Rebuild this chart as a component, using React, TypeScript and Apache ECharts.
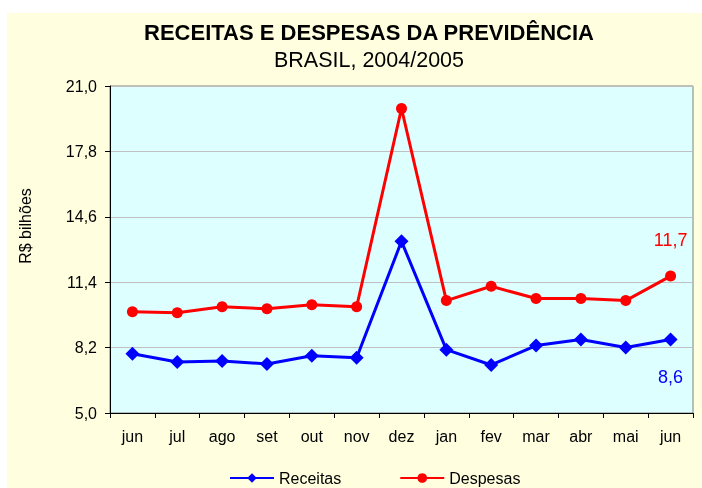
import React, { useEffect, useRef } from "react";
import * as echarts from "echarts";

const categories = ["jun", "jul", "ago", "set", "out", "nov", "dez", "jan", "fev", "mar", "abr", "mai", "jun"];
const receitas = [7.9, 7.5, 7.55, 7.4, 7.8, 7.7, 13.4, 8.1, 7.35, 8.3, 8.6, 8.2, 8.6];
const despesas = [9.95, 9.9, 10.2, 10.1, 10.3, 10.2, 19.9, 10.5, 11.2, 10.6, 10.6, 10.5, 11.7];
const yTicks = [5.0, 8.2, 11.4, 14.6, 17.8, 21.0];

const fmt = (v: number) => v.toFixed(1).replace(".", ",");

export default function App() {
  const ref = useRef<HTMLDivElement>(null);
  useEffect(() => {
    if (!ref.current) return;
    const chart = echarts.init(ref.current, null, { renderer: "svg" });
    const font = "'Liberation Sans', Arial, sans-serif";
    const lastIdx = categories.length - 1;
    chart.setOption({
      animation: false,
      textStyle: { fontFamily: font },
      graphic: [
        { type: "rect", z: -10, shape: { x: 7, y: 13, width: 702, height: 480 }, style: { fill: "#FFFFE0" } },
        { type: "text", x: 369, y: 32, style: { text: "RECEITAS E DESPESAS DA PREVIDÊNCIA", font: `bold 22px ${font}`, fill: "#000", align: "center", verticalAlign: "middle" } },
        { type: "text", x: 369, y: 60, style: { text: "BRASIL, 2004/2005", font: `21.5px ${font}`, fill: "#000", align: "center", verticalAlign: "middle" } },
        { type: "text", x: 25, y: 226, rotation: Math.PI / 2, style: { text: "R$ bilhões", font: `16px ${font}`, fill: "#000", align: "center", verticalAlign: "middle" } },
      ],
      grid: { left: 110, top: 86, right: 9, bottom: 75, show: true, backgroundColor: "#DDFFFF", borderColor: "#808080", borderWidth: 1 },
      xAxis: {
        type: "category",
        data: categories,
        boundaryGap: true,
        axisLine: { lineStyle: { color: "#000", width: 1 } },
        axisTick: { show: true, alignWithLabel: false, length: 5, lineStyle: { color: "#000" } },
        axisLabel: { color: "#000", fontSize: 16, margin: 15, fontFamily: font },
      },
      yAxis: {
        type: "value",
        min: 5,
        max: 21,
        axisLine: { show: true, lineStyle: { color: "#000" } },
        axisTick: { show: true, length: 5, lineStyle: { color: "#000" }, customValues: yTicks },
        axisLabel: { color: "#000", fontSize: 16, margin: 13, fontFamily: font, formatter: (v: number) => fmt(v), customValues: yTicks },
        splitLine: { show: true, lineStyle: { color: "#C0C0C0", width: 1 } },
      },
      legend: {
        left: 224,
        top: 465,
        itemGap: 58,
        itemWidth: 44,
        itemHeight: 12,
        textStyle: { color: "#000", fontSize: 16, fontFamily: font },
        data: ["Receitas", "Despesas"],
      },
      series: [
        {
          name: "Receitas",
          type: "line",
          data: receitas.map((v, i) => i === lastIdx ? { value: v, label: { show: true, position: "bottom", distance: 22, formatter: (p: any) => fmt(p.value), color: "#0000FF", fontSize: 18, fontFamily: font } } : v),
          symbol: "diamond",
          symbolSize: 14,
          lineStyle: { color: "#0000FF", width: 3 },
          itemStyle: { color: "#0000FF" },
        },
        {
          name: "Despesas",
          type: "line",
          data: despesas.map((v, i) => i === lastIdx ? { value: v, label: { show: true, position: "top", distance: 22, formatter: (p: any) => fmt(p.value), color: "#FF0000", fontSize: 18, fontFamily: font } } : v),
          symbol: "circle",
          symbolSize: 11,
          lineStyle: { color: "#FF0000", width: 3 },
          itemStyle: { color: "#FF0000" },
        },
      ],
    });
    return () => chart.dispose();
  }, []);
  return <div ref={ref} style={{ position: "fixed", left: 0, top: 0, width: 702, height: 488 }} />;
}
